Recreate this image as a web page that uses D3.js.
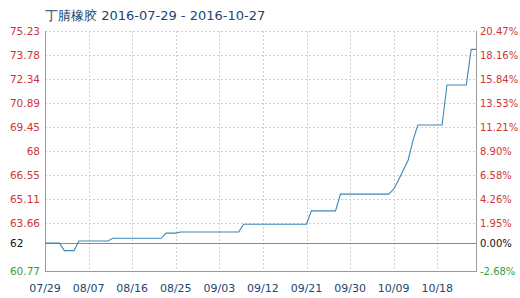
<!DOCTYPE html>
<html>
<head>
<meta charset="utf-8">
<script src="https://cdn.jsdelivr.net/npm/d3@7"></script>
<style>
  body { margin: 0; background: #fff; }
  svg { display: block; font-family: "DejaVu Sans", Verdana, sans-serif; }
</style>
</head>
<body>
<svg id="chart" width="520" height="298"></svg>
<script>
const title = '丁腈橡胶 2016-07-29 - 2016-10-27';

// price change points (daily steps)
const dates = [
    '2016-07-29', '2016-08-01', '2016-08-02', '2016-08-04', '2016-08-05',
    '2016-08-11', '2016-08-12', '2016-08-22', '2016-08-23', '2016-08-25',
    '2016-08-26', '2016-09-07', '2016-09-08', '2016-09-21', '2016-09-22',
    '2016-09-27', '2016-09-28', '2016-10-08', '2016-10-09', '2016-10-10',
    '2016-10-11', '2016-10-12', '2016-10-13', '2016-10-14', '2016-10-19',
    '2016-10-20', '2016-10-24', '2016-10-25', '2016-10-26'
];
const prices = [
    62.45, 62.45, 62.0, 62.0, 62.58,
    62.58, 62.74, 62.74, 63.05, 63.05,
    63.12, 63.12, 63.59, 63.59, 64.39,
    64.39, 65.4, 65.4, 65.7, 66.25,
    66.86, 67.46, 68.66, 69.57, 69.57,
    71.98, 71.98, 74.12, 74.12
];

const baseValue = 62.45;
const baseLabel = '62';
const baseRightLabel = '0.00%';
const leftTicks = [75.23, 73.78, 72.34, 70.89, 69.45, 68, 66.55, 65.11, 63.66, 60.77];
const rightTicks = ['20.47%', '18.16%', '15.84%', '13.53%', '11.21%', '8.90%', '6.58%', '4.26%', '1.95%', '-2.68%'];
const xTickDates = ['2016-07-29', '2016-08-07', '2016-08-16', '2016-08-25', '2016-09-03',
    '2016-09-12', '2016-09-21', '2016-09-30', '2016-10-09', '2016-10-18'];

const parse = d3.timeParse('%Y-%m-%d');
const data = dates.map((d, i) => ({date: parse(d), value: prices[i]}));

const plotLeft = 45, plotRight = 476, plotTop = 31, plotBottom = 271;
const svg = d3.select('#chart');

const xScale = d3.scaleTime()
    .domain([parse('2016-07-29'), parse('2016-10-26')])
    .range([plotLeft, plotRight]);
const yScale = d3.scaleLinear()
    .domain([d3.min(leftTicks), d3.max(leftTicks)])
    .range([plotBottom, plotTop]);

const red = '#d0343a', green = '#3c9a3c', navy = '#23466f';

// horizontal grid
svg.append('g')
    .selectAll('line')
    .data(leftTicks)
    .enter()
    .append('line')
    .attr('x1', plotLeft).attr('x2', plotRight)
    .attr('y1', d => Math.round(yScale(d)) + 0.5)
    .attr('y2', d => Math.round(yScale(d)) + 0.5)
    .attr('stroke', '#cfcfcf')
    .attr('stroke-dasharray', '2,2');

// vertical grid
svg.append('g')
    .selectAll('line')
    .data(xTickDates.slice(1))
    .enter()
    .append('line')
    .attr('x1', d => Math.round(xScale(parse(d))) + 0.5)
    .attr('x2', d => Math.round(xScale(parse(d))) + 0.5)
    .attr('y1', plotTop).attr('y2', plotBottom)
    .attr('stroke', '#cfcfcf')
    .attr('stroke-dasharray', '2,2');

// frame
svg.append('line').attr('x1', plotLeft + 0.5).attr('x2', plotLeft + 0.5)
    .attr('y1', plotTop).attr('y2', plotBottom)
    .attr('stroke', '#9a9a9a');
svg.append('line').attr('x1', plotRight + 0.5).attr('x2', plotRight + 0.5)
    .attr('y1', plotTop).attr('y2', plotBottom)
    .attr('stroke', '#9a9a9a');
svg.append('line').attr('x1', plotLeft).attr('x2', plotRight + 1)
    .attr('y1', plotBottom + 0.5).attr('y2', plotBottom + 0.5)
    .attr('stroke', '#9a9a9a');

// base line
svg.append('line')
    .attr('x1', plotLeft).attr('x2', plotRight)
    .attr('y1', Math.round(yScale(baseValue)) + 0.5)
    .attr('y2', Math.round(yScale(baseValue)) + 0.5)
    .attr('stroke', '#8a8a8a');

// price line
const line = d3.line()
    .x(d => xScale(d.date))
    .y(d => yScale(d.value));

svg.append('path')
    .datum(data)
    .attr('d', line)
    .attr('fill', 'none')
    .attr('stroke', '#3d88b8')
    .attr('stroke-width', 1.1);

// left labels
const labelColor = (i) => i === leftTicks.length - 1 ? green : red;
svg.append('g')
    .selectAll('text')
    .data(leftTicks)
    .enter()
    .append('text')
    .attr('x', 40)
    .attr('y', d => yScale(d) + 4)
    .attr('text-anchor', 'end')
    .attr('font-size', 10.5)
    .attr('fill', (_, i) => labelColor(i))
    .text(d => d);

svg.append('text')
    .attr('x', 10)
    .attr('y', yScale(baseValue) + 4)
    .attr('font-size', 10.5)
    .attr('fill', '#111')
    .text(baseLabel);

// right labels
svg.append('g')
    .selectAll('text')
    .data(rightTicks)
    .enter()
    .append('text')
    .attr('x', 480)
    .attr('y', (_, i) => yScale(leftTicks[i]) + 4)
    .attr('font-size', 10)
    .attr('fill', (_, i) => labelColor(i))
    .text(d => d);

svg.append('text')
    .attr('x', 480)
    .attr('y', yScale(baseValue) + 4)
    .attr('font-size', 10)
    .attr('fill', '#111')
    .text(baseRightLabel);

// x labels
const fmt = d3.timeFormat('%m/%d');
svg.append('g')
    .selectAll('text')
    .data(xTickDates)
    .enter()
    .append('text')
    .attr('x', d => xScale(parse(d)))
    .attr('y', 292)
    .attr('text-anchor', 'middle')
    .attr('font-size', 11)
    .attr('fill', navy)
    .text(d => fmt(parse(d)));

// title
svg.append('text')
    .attr('x', 45)
    .attr('y', 20)
    .attr('font-size', 13)
    .attr('fill', navy)
    .text(title);
</script>
</body>
</html>
